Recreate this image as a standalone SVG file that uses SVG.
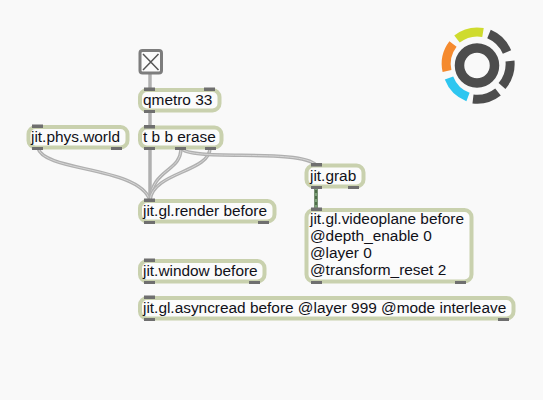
<svg xmlns="http://www.w3.org/2000/svg" width="543" height="400" viewBox="0 0 543 400">
<style>
.box{fill:#fbfbfb;stroke:#c9d1ae;stroke-width:4}
.port{fill:#6f6f6f}
.t{font-family:"Liberation Sans",Arial,sans-serif;font-size:15.4px;fill:#101018}
.w{fill:none;stroke:#b0b0b0;stroke-width:3.500}
.c{fill:none;stroke:#d6d6d6;stroke-width:1}
.seg{fill:none;stroke-width:9}
</style>
<rect width="543" height="400" fill="#f9f9f9"/>
<g id="connectors">
<path class="w" d="M150 74V89"/>
<path class="w" d="M150 111V127"/>
<path class="w" d="M150 148V200"/>
<path class="w" d="M38 148C44 172 138 166 150 200"/>
<path class="c" d="M38 148C44 172 138 166 150 200"/>
<path class="w" d="M181 148C181 172 153 168 150 200"/>
<path class="c" d="M181 148C181 172 153 168 150 200"/>
<path class="w" d="M210 148C210 172 153 172 150 200"/>
<path class="c" d="M210 148C210 172 153 172 150 200"/>
<path class="w" d="M181 148C190 162 300 148 316 165"/>
<path class="c" d="M181 148C190 162 300 148 316 165"/>
<path d="M316 187V209" fill="none" stroke="#4e6e48" stroke-width="3.500"/>
<path d="M316 187V209" fill="none" stroke="#9cc39a" stroke-width="1.200" stroke-dasharray="3 3"/>
</g>
<g id="toggle">
<rect x="140" y="50.500" width="21.500" height="22.500" rx="2.500" fill="#fbfbfb" stroke="#7d7d7d" stroke-width="3"/>
<path d="M143 54L158.500 70M158.500 54L143 70" stroke="#555" stroke-width="1.500" fill="none"/>
</g>
<g id="qmetro">
<rect class="box" x="140" y="90" width="79.500" height="20.500" rx="7"/>
<rect class="port" x="144" y="87.500" width="11" height="3.500"/><rect class="port" x="204" y="87.500" width="11" height="3.500"/><rect class="port" x="144" y="110" width="11" height="3"/>
<text class="t" x="143" y="105">qmetro 33</text>
</g>
<g id="trigger">
<rect class="box" x="140" y="127.500" width="81.500" height="20" rx="7"/>
<rect class="port" x="144" y="125" width="11" height="3.500"/><rect class="port" x="144" y="147" width="11" height="3"/><rect class="port" x="175" y="147" width="11" height="3"/><rect class="port" x="205" y="147" width="11" height="3"/>
<text class="t" x="143" y="142">t b b erase</text>
</g>
<g id="physworld">
<rect class="box" x="28.500" y="127" width="99" height="20.500" rx="7"/>
<rect class="port" x="32" y="124.500" width="11" height="3.500"/><rect class="port" x="32" y="147" width="11" height="3"/><rect class="port" x="111" y="147" width="11" height="3"/>
<text class="t" x="31" y="142">jit.phys.world</text>
</g>
<g id="grab">
<rect class="box" x="306.500" y="165.500" width="57" height="21" rx="7"/>
<rect class="port" x="311" y="163" width="11" height="3.500"/><rect class="port" x="311" y="186" width="11" height="3"/><rect class="port" x="348" y="186" width="11" height="3"/>
<text class="t" x="310" y="181">jit.grab</text>
</g>
<g id="render">
<rect class="box" x="140" y="201" width="134.500" height="20.500" rx="7"/>
<rect class="port" x="144" y="198.500" width="11" height="3.500"/><rect class="port" x="144" y="221" width="11" height="3"/><rect class="port" x="258" y="221" width="11" height="3"/>
<text class="t" x="143" y="216">jit.gl.render before</text>
</g>
<g id="videoplane">
<rect class="box" x="306.500" y="210" width="165" height="71.500" rx="7"/>
<rect class="port" x="311" y="207.500" width="11" height="3.500"/><rect class="port" x="311" y="281" width="11" height="3"/><rect class="port" x="455" y="281" width="11" height="3"/>
<text class="t" x="310" y="224">jit.gl.videoplane before</text>
<text class="t" x="310" y="241">@depth_enable 0</text>
<text class="t" x="310" y="258">@layer 0</text>
<text class="t" x="310" y="275">@transform_reset 2</text>
</g>
<g id="window">
<rect class="box" x="140" y="261" width="124.500" height="20.500" rx="7"/>
<rect class="port" x="144" y="258.500" width="11" height="3.500"/><rect class="port" x="144" y="281" width="11" height="3"/><rect class="port" x="249" y="281" width="11" height="3"/>
<text class="t" x="143" y="276">jit.window before</text>
</g>
<g id="asyncread">
<rect class="box" x="140" y="298" width="373.500" height="20.500" rx="7"/>
<rect class="port" x="144" y="295.500" width="11" height="3.500"/><rect class="port" x="144" y="318" width="11" height="3"/><rect class="port" x="498" y="318" width="11" height="3"/>
<text class="t" x="143" y="313">jit.gl.asyncread before @layer 999 @mode interleave</text>
</g>
<g id="logo">
<circle cx="477" cy="65.500" r="17.500" fill="none" stroke="#4d4d4d" stroke-width="9.500"/>
<path class="seg" stroke="#cfdb2e" d="M457 39A33.500 33.500 0 0 1 483 32.500"/>
<path class="seg" stroke="#f58a2e" d="M447 71A33 33 0 0 1 453 44"/>
<path class="seg" stroke="#2ec6f0" d="M449 78A33 33 0 0 0 468 97"/>
<path class="seg" stroke="#4d4d4d" d="M489 34A34 34 0 0 1 507 52"/>
<path class="seg" stroke="#4d4d4d" d="M510 61A34 34 0 0 1 502 86"/>
<path class="seg" stroke="#4d4d4d" d="M498 92A34 34 0 0 1 473 99"/>
</g>
</svg>
